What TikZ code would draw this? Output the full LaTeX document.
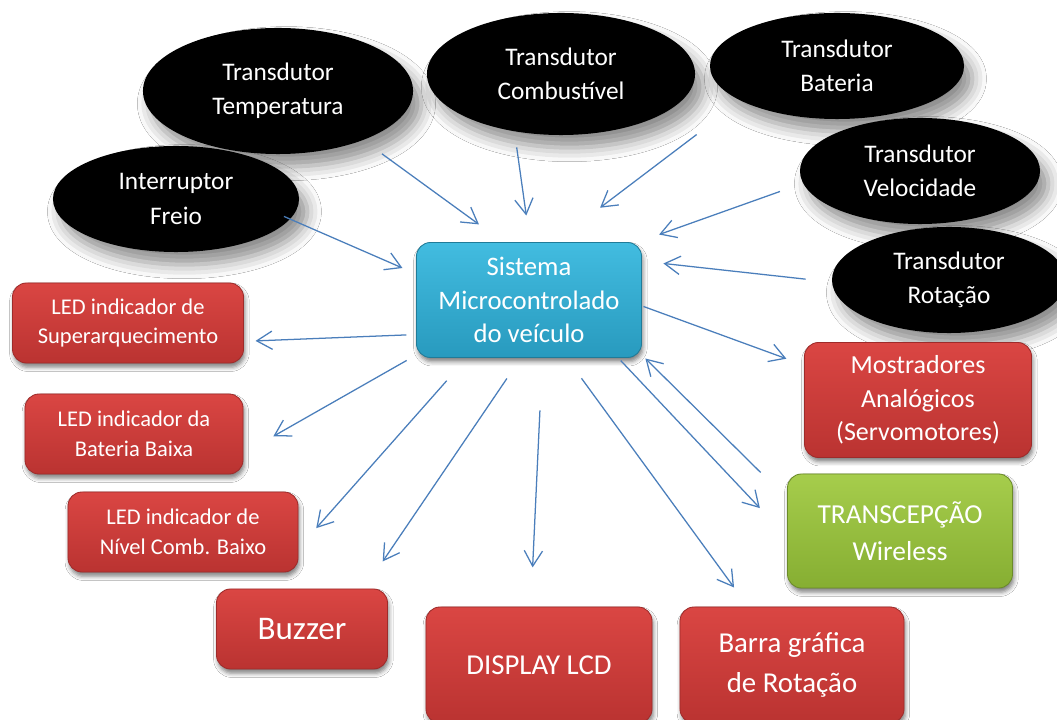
\documentclass[tikz,border=0pt]{standalone}
\usepackage{fontspec}
\setmainfont{Carlito}
\usetikzlibrary{arrows.meta}
\usetikzlibrary{positioning}
\usetikzlibrary{shapes.geometric}
\usetikzlibrary{shadows.blur}
\definecolor{azulseta}{RGB}{74,126,187}
\definecolor{vermclaro}{RGB}{218,70,67}
\definecolor{vermescuro}{RGB}{186,51,49}
\definecolor{cianoclaro}{RGB}{66,188,224}
\definecolor{cianoescuro}{RGB}{40,154,190}
\definecolor{verdeclaro}{RGB}{166,205,76}
\definecolor{verdeescuro}{RGB}{134,174,50}
\tikzset{
sensor/.style = {ellipse, fill=black, text=white, align=center, inner sep=0pt,
                 font=\fontsize{18}{24.5}\selectfont,
                 blur shadow={shadow xshift=6pt, shadow yshift=-9pt,
                              shadow blur radius=10pt, shadow opacity=45}},
caixa/.style = {rectangle, rounded corners=10pt, text=white, align=center,
                inner sep=0pt, line width=0.6pt,
                blur shadow={shadow xshift=1pt, shadow yshift=-3pt,
                             shadow blur radius=3pt, shadow opacity=50}},
saida/.style = {caixa, draw=vermescuro!85!black, top color=vermclaro, bottom color=vermescuro},
central/.style = {caixa, draw=cianoescuro!80!black, top color=cianoclaro, bottom color=cianoescuro},
radio/.style = {caixa, draw=verdeescuro!80!black, top color=verdeclaro, bottom color=verdeescuro},
seta/.style = {draw=azulseta, line width=0.9pt,
               -{Straight Barb[length=11pt, width=13pt]}}
}
\begin{document}
\begin{tikzpicture}[x=0.025cm, y=-0.025cm]
    \useasboundingbox (0,0) rectangle (1057,720);
    \fill[white] (0,0) rectangle (1057,720);

    % entradas
    \node[sensor, minimum width=6.75cm, minimum height=3.15cm] (temp) at (278,91) {Transdutor\\Temperatura};
    \node[sensor, minimum width=6.7cm, minimum height=3.05cm] (comb) at (561,74) {Transdutor\\Combustível};
    \node[sensor, minimum width=6.35cm, minimum height=2.65cm] (bat) at (837,66) {Transdutor\\Bateria};
    \node[sensor, minimum width=6cm, minimum height=2.65cm] (vel) at (920,171) {Transdutor\\Velocidade};
    \node[sensor, minimum width=5.85cm, minimum height=2.65cm] (rot) at (949,280) {Transdutor\\Rotação};
    \node[sensor, minimum width=6.15cm, minimum height=2.65cm] (freio) at (176,199) {Interruptor\\Freio};

    \node[central, minimum width=5.625cm, minimum height=2.875cm, font=\fontsize{19}{24}\selectfont] (sys) at (529,300) {Sistema\\Microcontrolado\\do veículo};

    % saidas
    \node[saida, minimum width=5.775cm, minimum height=2cm, font=\fontsize{16}{21}\selectfont] (led1) at (128,323) {LED indicador de\\Superarquecimento};
    \node[saida, minimum width=5.45cm, minimum height=2cm, font=\fontsize{16}{21}\selectfont] (led2) at (134,434) {LED indicador da\\Bateria Baixa};
    \node[saida, minimum width=5.75cm, minimum height=2cm, font=\fontsize{16}{21}\selectfont] (led3) at (183,532) {LED indicador de\\Nível Comb. Baixo};
    \node[saida, minimum width=4.275cm, minimum height=2cm, font=\fontsize{23.5}{28}\selectfont] (buzz) at (302,629) {Buzzer};
    \node[saida, minimum width=5.65cm, minimum height=2.9cm, font=\fontsize{20.5}{28}\selectfont] (lcd) at (539,665) {DISPLAY LCD};
    \node[saida, minimum width=5.6cm, minimum height=2.9cm, font=\fontsize{20.5}{28}\selectfont] (barra) at (792,665) {Barra gráfica\\de Rotação};
    \node[saida, minimum width=5.675cm, minimum height=2.875cm, font=\fontsize{18.5}{24}\selectfont] (most) at (918,400) {Mostradores\\Analógicos\\(Servomotores)};
    \node[radio, minimum width=5.625cm, minimum height=2.85cm, font=\fontsize{19.5}{26}\selectfont] (wire) at (900,531) {TRANSCEPÇÃO\\Wireless};

    \path
    (temp.-30.8) edge[seta, shorten <=0.58cm, shorten >=0.75cm] (sys.114)
    (freio.-10.9) edge[seta, shorten <=-0.17cm, shorten >=0.37cm] (sys.167.3)
    (comb.-129.6) edge[seta, shorten <=0.4cm, shorten >=0.67cm] (sys.89.2)
    (bat.-160.5) edge[seta, shorten <=1.39cm, shorten >=1.42cm] (sys.66.7)
    (vel.-174.2) edge[seta, shorten <=0.61cm, shorten >=0.56cm] (sys.28.5)
    (rot.181) edge[seta, shorten <=0.66cm, shorten >=0.54cm] (sys.19.8)
    (wire.164.6) edge[seta, shorten <=0.93cm, shorten >=0.12cm] (sys.-26.7);

    \path
    (sys.-3.3) edge[seta, shorten <=0.04cm, shorten >=0.47cm] (most.163)
    (sys.-33.9) edge[seta, shorten <=0.09cm, shorten >=0.99cm] (wire.183.4)
    (sys.-57.9) edge[seta, shorten <=0.63cm, shorten >=0.59cm] (barra.127.9)
    (sys.-77.9) edge[seta, shorten <=1.31cm, shorten >=0.98cm] (lcd.98.5)
    (sys.-98) edge[seta, shorten <=0.62cm, shorten >=0.82cm] (buzz.33)
    (sys.-137.8) edge[seta, shorten <=0.76cm, shorten >=0.67cm] (led3.-8.5)
    (sys.-154.2) edge[seta, shorten <=0.27cm, shorten >=0.86cm] (led2.-10.5)
    (sys.-163.9) edge[seta, shorten <=0.24cm, shorten >=0.29cm] (led1.-9.7);
\end{tikzpicture}
\end{document}
